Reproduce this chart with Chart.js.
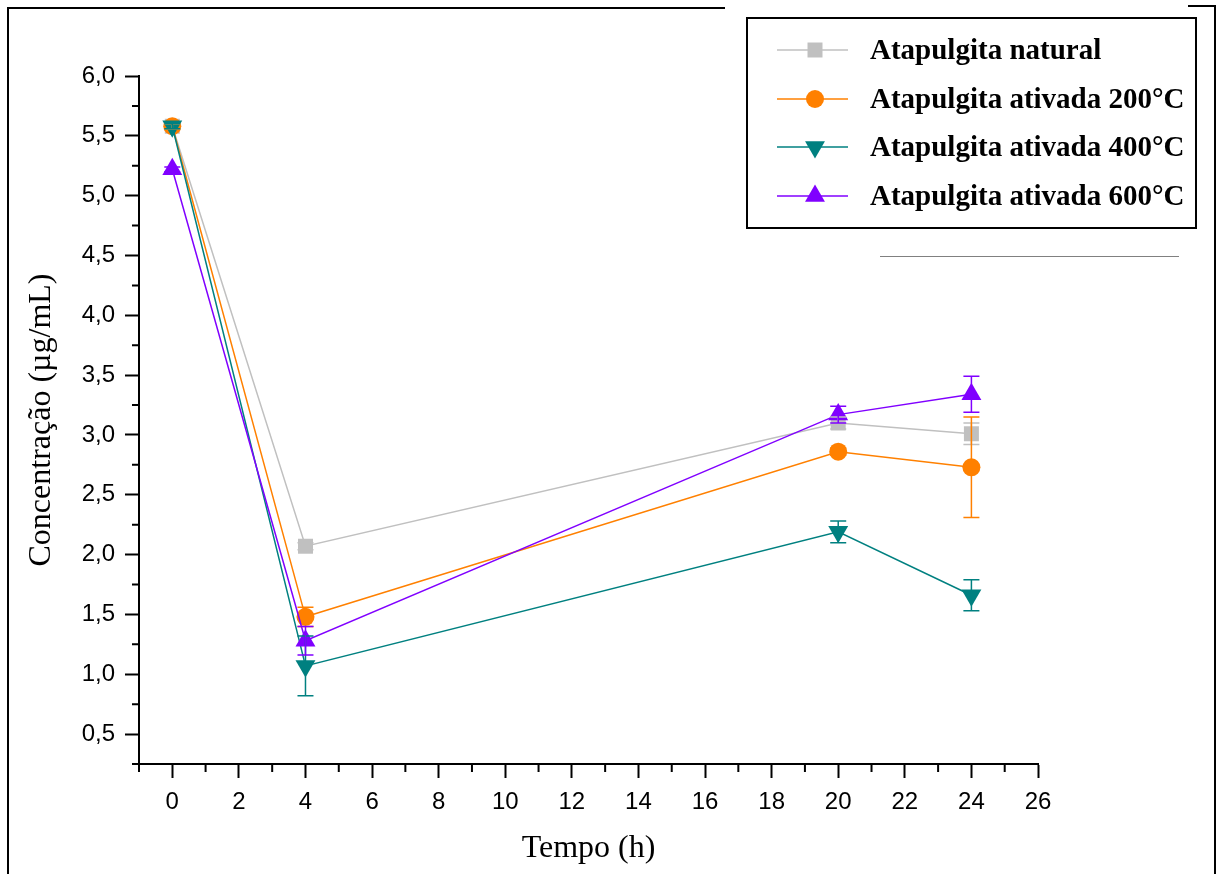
<!DOCTYPE html>
<html>
<head>
<meta charset="utf-8">
<script src="https://cdn.jsdelivr.net/npm/chart.js@4.4.0/dist/chart.umd.min.js"></script>
<style>
  html, body { margin: 0; padding: 0; background: #fff; }
  #wrap { position: relative; width: 1217px; height: 874px; }
</style>
</head>
<body>
<div id="wrap"><canvas id="chart" width="1217" height="874"></canvas></div>
<script>
// values (concentration in ug/mL vs time in h)
const timeHours = [0, 4, 20, 24];
const seriesNames = ['Atapulgita natural', 'Atapulgita ativada 200°C', 'Atapulgita ativada 400°C', 'Atapulgita ativada 600°C'];

const naturalConc = [5.58, 2.07, 3.10, 3.01];
const naturalErr = [0.02, 0.03, 0.05, 0.09];

const ativada200Conc = [5.58, 1.48, 2.86, 2.73];
const ativada200Err = [0.02, 0.08, 0.03, 0.42];

const ativada400Conc = [5.58, 1.07, 2.19, 1.66];
const ativada400Err = [0.02, 0.25, 0.09, 0.13];

const ativada600Conc = [5.22, 1.28, 3.17, 3.34];
const ativada600Err = [0.02, 0.12, 0.07, 0.15];

const yTickFormat = v => v.toFixed(1).replace('.', ',');

const colors = {
  gray: '#c0c0c0',
  orange: '#ff8000',
  teal: '#008080',
  purple: '#8000ff'
};

function toPoints(values) {
  return timeHours.map((t, i) => ({ x: t, y: values[i] }));
}

function makeDataset(label, values, errors, color, style, radius, rotation, order) {
  return {
    label: label,
    data: toPoints(values),
    errors: errors,
    borderColor: color,
    backgroundColor: color,
    borderWidth: 1.5,
    pointStyle: style,
    pointRadius: radius,
    pointRotation: rotation,
    pointBackgroundColor: color,
    pointBorderColor: color,
    pointBorderWidth: 0,
    tension: 0,
    order: order
  };
}

// error bars drawn through the chart scales
const errorBarPlugin = {
  id: 'errorBars',
  afterDatasetsDraw(chart) {
    const { ctx, scales: { x, y } } = chart;
    const list = chart.data.datasets.slice().sort((a, b) => b.order - a.order);
    list.forEach(ds => {
      ctx.save();
      ctx.strokeStyle = ds.borderColor;
      ctx.lineWidth = 1.5;
      ds.data.forEach((pt, j) => {
        const e = ds.errors[j];
        const px = x.getPixelForValue(pt.x);
        const top = y.getPixelForValue(pt.y + e);
        const bot = y.getPixelForValue(pt.y - e);
        ctx.beginPath();
        ctx.moveTo(px, top); ctx.lineTo(px, bot);
        ctx.moveTo(px - 8, top); ctx.lineTo(px + 8, top);
        ctx.moveTo(px - 8, bot); ctx.lineTo(px + 8, bot);
        ctx.stroke();
      });
      ctx.restore();
    });
  }
};

// minor ticks halfway between the labelled ones
const minorTickPlugin = {
  id: 'minorTicks',
  afterDraw(chart) {
    const { ctx, chartArea, scales: { x, y } } = chart;
    ctx.save();
    ctx.strokeStyle = '#000';
    ctx.lineWidth = 2;
    ctx.beginPath();
    for (let v = x.min; v < x.max; v += 2) {
      const px = x.getPixelForValue(v);
      ctx.moveTo(px, chartArea.bottom);
      ctx.lineTo(px, chartArea.bottom + 8);
    }
    for (let v = y.min; v < y.max; v += 0.5) {
      const py = y.getPixelForValue(v);
      ctx.moveTo(chartArea.left - 7, py);
      ctx.lineTo(chartArea.left, py);
    }
    ctx.stroke();
    ctx.restore();
  }
};

// boxed legend in the top right, plus the page frame lines
const legendBoxPlugin = {
  id: 'legendBox',
  afterDraw(chart) {
    const ctx = chart.ctx;
    const rows = [50, 99, 147, 196];
    ctx.save();
    ctx.strokeStyle = '#000';
    ctx.lineWidth = 2;
    ctx.strokeRect(747, 18, 449, 210);

    chart.data.datasets.forEach((ds, i) => {
      const ry = rows[i];
      ctx.strokeStyle = ds.borderColor;
      ctx.lineWidth = 1.5;
      ctx.beginPath();
      ctx.moveTo(777, ry); ctx.lineTo(848, ry);
      ctx.stroke();
      ctx.fillStyle = ds.pointBackgroundColor;
      ctx.strokeStyle = ds.pointBorderColor;
      Chart.helpers.drawPoint(ctx, {
        pointStyle: ds.pointStyle,
        radius: ds.pointRadius,
        rotation: ds.pointRotation,
        borderWidth: 0
      }, 815, ry);
      ctx.fillStyle = '#000';
      ctx.font = 'bold 29px "Liberation Serif", "Times New Roman", serif';
      ctx.textBaseline = 'alphabetic';
      ctx.fillText(ds.label, 870, ry + 9);
    });

    // frame lines of the original figure
    ctx.strokeStyle = '#000';
    ctx.lineWidth = 2;
    ctx.beginPath();
    ctx.moveTo(8, 874); ctx.lineTo(8, 8); ctx.lineTo(725, 8);
    ctx.moveTo(1188, 6); ctx.lineTo(1215, 6); ctx.lineTo(1215, 874);
    ctx.stroke();
    ctx.strokeStyle = '#808080';
    ctx.lineWidth = 1;
    ctx.beginPath();
    ctx.moveTo(880, 256.5); ctx.lineTo(1179, 256.5);
    ctx.stroke();
    ctx.restore();
  }
};

const tickFont = { family: '"Liberation Sans", Arial, sans-serif', size: 24 };
const titleFont = { family: '"Liberation Serif", "Times New Roman", serif', size: 32, lineHeight: 1 };

const chart = new Chart(document.getElementById('chart'), {
  type: 'line',
  data: {
    datasets: [
      makeDataset(seriesNames[0], naturalConc, naturalErr, colors.gray, 'rect', 10.6, 0, 4),
      makeDataset(seriesNames[1], ativada200Conc, ativada200Err, colors.orange, 'circle', 9, 0, 3),
      makeDataset(seriesNames[2], ativada400Conc, ativada400Err, colors.teal, 'triangle', 11.5, 180, 2),
      makeDataset(seriesNames[3], ativada600Conc, ativada600Err, colors.purple, 'triangle', 11.5, 0, 1)
    ]
  },
  options: {
    responsive: false,
    animation: false,
    layout: { padding: { left: 0, top: 76, right: 179, bottom: 0 } },
    plugins: {
      legend: { display: false },
      tooltip: { enabled: false }
    },
    scales: {
      x: {
        type: 'linear',
        min: -1,
        max: 26,
        afterFit(scale) { scale.height = 110; },
        border: { color: '#000', width: 2 },
        grid: { drawOnChartArea: false, color: '#000', tickLength: 14, tickWidth: 2 },
        ticks: { stepSize: 2, includeBounds: false, padding: 10, color: '#000', font: tickFont, maxRotation: 0 },
        title: { display: true, text: 'Tempo (h)', color: '#000', font: titleFont, padding: { top: 0, bottom: 9 } }
      },
      y: {
        min: 0.25,
        max: 6.0,
        afterFit(scale) { scale.width = 139; },
        border: { color: '#000', width: 2 },
        grid: { drawOnChartArea: false, color: '#000', tickLength: 14, tickWidth: 2 },
        ticks: { stepSize: 0.5, includeBounds: false, padding: 10, color: '#000', font: tickFont, callback: v => yTickFormat(v) },
        title: { display: true, text: 'Concentração (µg/mL)', color: '#000', font: titleFont, padding: { top: 26, bottom: 0 } }
      }
    }
  },
  plugins: [errorBarPlugin, minorTickPlugin, legendBoxPlugin]
});
</script>
</body>
</html>
